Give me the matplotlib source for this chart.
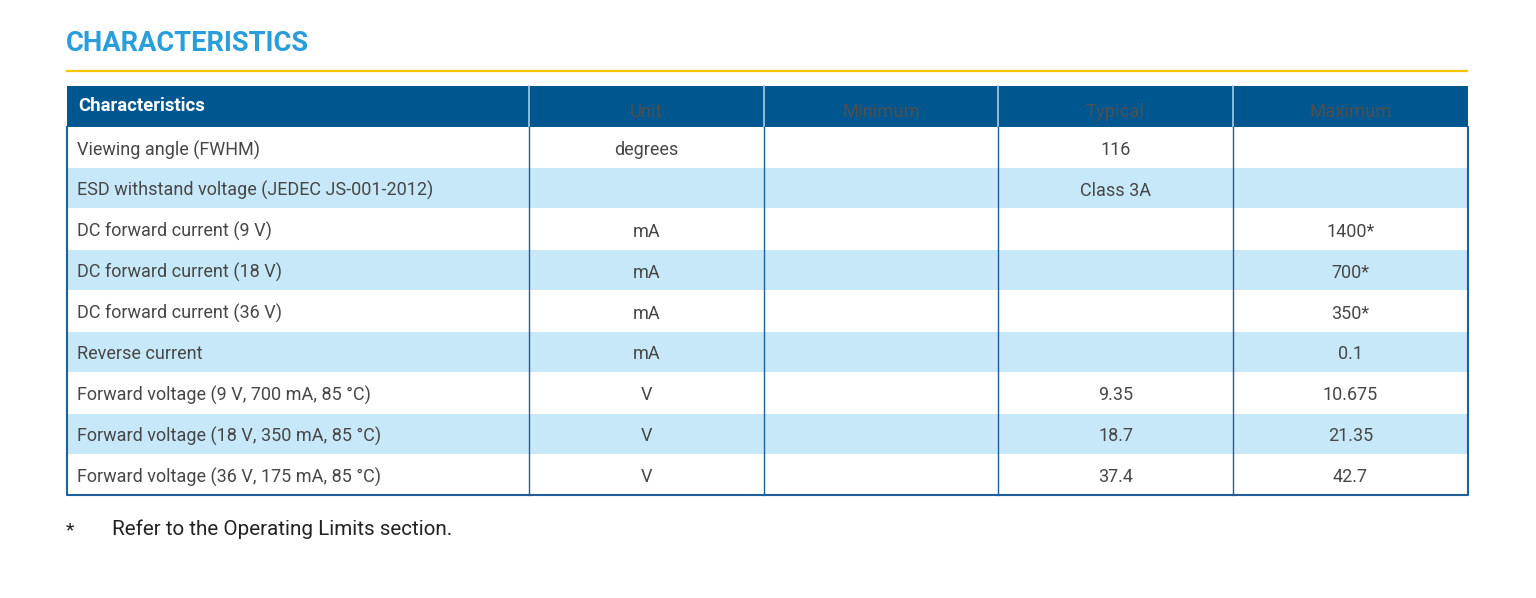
import matplotlib.pyplot as plt
from matplotlib.patches import Rectangle

plt.rcParams['font.family'] = ['Roboto', 'DejaVu Sans']

# table content
headers = ['Characteristics', 'Unit', 'Minimum', 'Typical', 'Maximum']
params = [
    'Viewing angle (FWHM)',
    'ESD withstand voltage (JEDEC JS-001-2012)',
    'DC forward current (9 V)',
    'DC forward current (18 V)',
    'DC forward current (36 V)',
    'Reverse current',
    'Forward voltage (9 V, 700 mA, 85 °C)',
    'Forward voltage (18 V, 350 mA, 85 °C)',
    'Forward voltage (36 V, 175 mA, 85 °C)',
]
units = ['degrees', '', 'mA', 'mA', 'mA', 'mA', 'V', 'V', 'V']
minimum = ['', '', '', '', '', '', '', '', '']
typical = ['116', 'Class 3A', '', '', '', '', '9.35', '18.7', '37.4']
maximum = ['', '', '1400*', '700*', '350*', '0.1', '10.675', '21.35', '42.7']
footnote = 'Refer to the Operating Limits section.'

W, H = 1536, 598
fig = plt.figure(figsize=(W / 100, H / 100), dpi=100)
ax = fig.add_axes([0, 0, 1, 1])
ax.set_xlim(0, W)
ax.set_ylim(H, 0)
ax.axis('off')

blue_dark = '#00578f'
blue_light = '#c7e8f8'
border = '#1f5f9a'
text_col = '#474747'

# title and rule
ax.text(66, 43.5, 'CHARACTERISTICS', fontsize=19.7, fontweight='bold',
        color='#2a9edb', va='center', ha='left')
ax.plot([66, 1468], [70.5, 70.5], color='#f7c600', lw=1.6, solid_capstyle='butt')

col_x = [67, 529, 764, 998, 1233, 1468]
top = 86
head_h = 41
row_h = 40.9

# header
ax.add_patch(Rectangle((col_x[0], top), col_x[-1] - col_x[0], head_h,
                       facecolor=blue_dark, edgecolor='none'))
for x in col_x[1:-1]:
    ax.plot([x, x], [top, top + head_h], color='#a9cce6', lw=1.2)
ax.text(78, top + 20, headers[0], fontsize=13.3, fontweight='bold', color='white',
        va='center', ha='left')
for i, h in enumerate(headers[1:], start=1):
    ax.text((col_x[i] + col_x[i + 1]) / 2, top + 26, h, fontsize=13.3,
            color='#4f4f4f', va='center', ha='center')

# body rows
body_top = top + head_h
columns = [params, units, minimum, typical, maximum]
for r in range(len(params)):
    y0 = body_top + r * row_h
    if r % 2 == 1:
        ax.add_patch(Rectangle((col_x[0], y0 + 0.5), col_x[-1] - col_x[0], row_h - 1,
                               facecolor=blue_light, edgecolor='none'))
    yc = y0 + row_h / 2 + 2.5
    ax.text(77, yc, params[r], fontsize=13.0, color=text_col, va='center', ha='left')
    for c in range(1, 5):
        val = columns[c][r]
        if val:
            ax.text((col_x[c] + col_x[c + 1]) / 2, yc, val, fontsize=13.0,
                    color=text_col, va='center', ha='center')

body_bot = body_top + len(params) * row_h
for x in col_x[1:-1]:
    ax.plot([x, x], [body_top, body_bot], color=border, lw=1.0)
ax.plot([col_x[0], col_x[0], col_x[-1], col_x[-1]],
        [body_top, body_bot, body_bot, body_top], color=border, lw=1.5)

# footnote
ax.text(66, 530, '*', fontsize=14, color='#222222', va='center', ha='left')
ax.text(112, 529, footnote, fontsize=14.9, color='#222222', va='center', ha='left')

fig.savefig('out.png', dpi=100)
